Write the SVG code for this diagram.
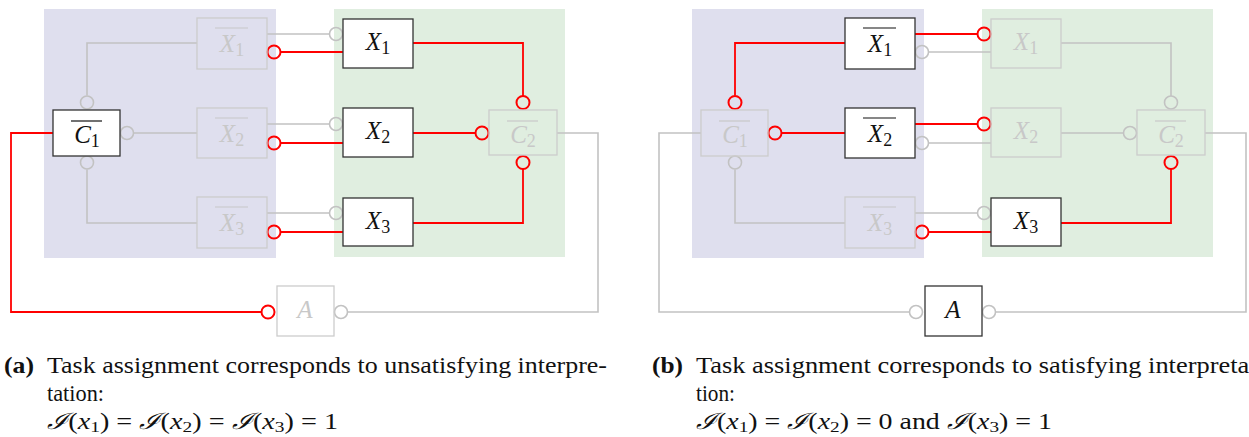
<svg xmlns="http://www.w3.org/2000/svg" width="1249" height="437" viewBox="0 0 1249 437">
<style>
.bgb{fill:#dfdfee}
.bgg{fill:#e0eee0}
.g{fill:none;stroke:#c2c2c2;stroke-width:1.6}
.r{fill:none;stroke:#ff0000;stroke-width:1.8}
.cg{fill:none;stroke:#c2c2c2;stroke-width:1.6}
.cr{fill:none;stroke:#ff0000;stroke-width:2}
.on rect{fill:#ffffff;stroke:#333333;stroke-width:1.3}
.off rect{fill:none;stroke:#cccccc;stroke-width:1.3}
.on text{fill:#111111}
.off text{fill:#c8c8c8}
.on line{stroke:#111111;stroke-width:1.2}
.off line{stroke:#c8c8c8;stroke-width:1.2}
.lbl{font-family:"Liberation Serif","DejaVu Serif",serif;font-size:25px;text-anchor:middle}
.it{font-style:italic}
.sub{font-size:18px;font-style:normal}
.cap{font-family:"Liberation Serif","DejaVu Serif",serif;font-size:22.5px;fill:#111111}
.capb{font-weight:bold}
.csub{font-size:15.5px}
</style>

<!-- ===================== Panel (a) ===================== -->
<g id="panel-a">
  <rect class="bgb" x="44" y="9" width="232" height="249"/>
  <rect class="bgg" x="334" y="9" width="231" height="248"/>
  <g id="a-connectors">
    <path class="g" d="M87,95.5 V43 H197"/>
    <circle class="cg" cx="87" cy="102.5" r="6.5"/>
    <path class="g" d="M133.5,133 H197"/>
    <circle class="cg" cx="127" cy="133" r="6.5"/>
    <path class="g" d="M87,169.5 V223 H197"/>
    <circle class="cg" cx="87" cy="162.5" r="6.5"/>
    <path class="g" d="M267,34 H329.5"/>
    <circle class="cg" cx="336" cy="34" r="6.5"/>
    <path class="g" d="M267,124 H329.5"/>
    <circle class="cg" cx="336" cy="124" r="6.5"/>
    <path class="g" d="M267,213 H329.5"/>
    <circle class="cg" cx="336" cy="213" r="6.5"/>
    <path class="g" d="M557,133 H598 V312 H347.5"/>
    <circle class="cg" cx="341" cy="312" r="6.5"/>
    <path class="r" d="M53,133 H11 V312 H261.5"/>
    <circle class="cr" cx="268" cy="312" r="6.5"/>
    <path class="r" d="M343,52 H280.5"/>
    <circle class="cr" cx="274" cy="52" r="6.5"/>
    <path class="r" d="M343,143 H280.5"/>
    <circle class="cr" cx="274" cy="143" r="6.5"/>
    <path class="r" d="M343,232 H280.5"/>
    <circle class="cr" cx="274" cy="232" r="6.5"/>
    <path class="r" d="M413,43 H523 V96"/>
    <circle class="cr" cx="523" cy="102.5" r="6.5"/>
    <path class="r" d="M413,133 H475.5"/>
    <circle class="cr" cx="482" cy="133" r="6.5"/>
    <path class="r" d="M413,223 H523 V169"/>
    <circle class="cr" cx="523" cy="162.5" r="6.5"/>
  </g>
  <g id="a-nX1" class="off">
    <rect x="197" y="18" width="70" height="51"/>
    <line x1="215" y1="28" x2="248" y2="28"/>
    <text class="lbl" x="232" y="52"><tspan class="it">X</tspan><tspan class="sub" dy="4">1</tspan></text>
  </g>
  <g id="a-nX2" class="off">
    <rect x="197" y="108" width="70" height="50"/>
    <line x1="215" y1="118" x2="248" y2="118"/>
    <text class="lbl" x="232" y="142"><tspan class="it">X</tspan><tspan class="sub" dy="4">2</tspan></text>
  </g>
  <g id="a-nX3" class="off">
    <rect x="197" y="197" width="70" height="51"/>
    <line x1="215" y1="207" x2="248" y2="207"/>
    <text class="lbl" x="232" y="231"><tspan class="it">X</tspan><tspan class="sub" dy="4">3</tspan></text>
  </g>
  <g id="a-X1" class="on">
    <rect x="343" y="19" width="70" height="49"/>
    <text class="lbl" x="378" y="50"><tspan class="it">X</tspan><tspan class="sub" dy="4">1</tspan></text>
  </g>
  <g id="a-X2" class="on">
    <rect x="343" y="108" width="70" height="49"/>
    <text class="lbl" x="378" y="139"><tspan class="it">X</tspan><tspan class="sub" dy="4">2</tspan></text>
  </g>
  <g id="a-X3" class="on">
    <rect x="343" y="198" width="70" height="48"/>
    <text class="lbl" x="378" y="229"><tspan class="it">X</tspan><tspan class="sub" dy="4">3</tspan></text>
  </g>
  <g id="a-nC1" class="on">
    <rect x="53" y="110" width="67" height="46"/>
    <line x1="71" y1="121" x2="102" y2="121"/>
    <text class="lbl" x="87" y="143"><tspan class="it">C</tspan><tspan class="sub" dy="4">1</tspan></text>
  </g>
  <g id="a-nC2" class="off">
    <rect x="489" y="110" width="68" height="45"/>
    <line x1="507" y1="121" x2="538" y2="121"/>
    <text class="lbl" x="523" y="143"><tspan class="it">C</tspan><tspan class="sub" dy="4">2</tspan></text>
  </g>
  <g id="a-A" class="off">
    <rect x="277" y="286" width="57" height="50"/>
    <text class="lbl" x="305" y="318"><tspan class="it">A</tspan></text>
  </g>
  <text class="cap capb" x="4" y="373" textLength="30" lengthAdjust="spacingAndGlyphs">(a)</text>
  <text class="cap" x="47" y="373" textLength="560" lengthAdjust="spacingAndGlyphs">Task assignment corresponds to unsatisfying interpre-</text>
  <text class="cap" x="47" y="401" textLength="57" lengthAdjust="spacingAndGlyphs">tation:</text>
  <text class="cap" x="47" y="429" textLength="291" lengthAdjust="spacingAndGlyphs"><tspan class="it">ℐ</tspan>(<tspan class="it">x</tspan><tspan class="csub" dy="3">1</tspan><tspan dy="-3">) = </tspan><tspan class="it">ℐ</tspan>(<tspan class="it">x</tspan><tspan class="csub" dy="3">2</tspan><tspan dy="-3">) = </tspan><tspan class="it">ℐ</tspan>(<tspan class="it">x</tspan><tspan class="csub" dy="3">3</tspan><tspan dy="-3">) = 1</tspan></text>
</g>

<!-- ===================== Panel (b) ===================== -->
<g id="panel-b" transform="translate(648,0)">
  <rect class="bgb" x="44" y="9" width="232" height="249"/>
  <rect class="bgg" x="334" y="9" width="231" height="248"/>
  <g id="b-connectors">
    <path class="r" d="M87,95.5 V43 H197"/>
    <circle class="cr" cx="87" cy="102.5" r="6.5"/>
    <path class="r" d="M133.5,133 H197"/>
    <circle class="cr" cx="127" cy="133" r="6.5"/>
    <path class="g" d="M87,169.5 V223 H197"/>
    <circle class="cg" cx="87" cy="162.5" r="6.5"/>
    <path class="r" d="M267,34 H329.5"/>
    <circle class="cr" cx="336" cy="34" r="6.5"/>
    <path class="r" d="M267,124 H329.5"/>
    <circle class="cr" cx="336" cy="124" r="6.5"/>
    <path class="g" d="M267,213 H329.5"/>
    <circle class="cg" cx="336" cy="213" r="6.5"/>
    <path class="g" d="M557,133 H598 V312 H347.5"/>
    <circle class="cg" cx="341" cy="312" r="6.5"/>
    <path class="g" d="M53,133 H11 V312 H261.5"/>
    <circle class="cg" cx="268" cy="312" r="6.5"/>
    <path class="g" d="M343,52 H280.5"/>
    <circle class="cg" cx="274" cy="52" r="6.5"/>
    <path class="g" d="M343,143 H280.5"/>
    <circle class="cg" cx="274" cy="143" r="6.5"/>
    <path class="r" d="M343,232 H280.5"/>
    <circle class="cr" cx="274" cy="232" r="6.5"/>
    <path class="g" d="M413,43 H523 V96"/>
    <circle class="cg" cx="523" cy="102.5" r="6.5"/>
    <path class="g" d="M413,133 H475.5"/>
    <circle class="cg" cx="482" cy="133" r="6.5"/>
    <path class="r" d="M413,223 H523 V169"/>
    <circle class="cr" cx="523" cy="162.5" r="6.5"/>
  </g>
  <g id="b-nX1" class="on">
    <rect x="197" y="18" width="70" height="51"/>
    <line x1="215" y1="28" x2="248" y2="28"/>
    <text class="lbl" x="232" y="52"><tspan class="it">X</tspan><tspan class="sub" dy="4">1</tspan></text>
  </g>
  <g id="b-nX2" class="on">
    <rect x="197" y="108" width="70" height="50"/>
    <line x1="215" y1="118" x2="248" y2="118"/>
    <text class="lbl" x="232" y="142"><tspan class="it">X</tspan><tspan class="sub" dy="4">2</tspan></text>
  </g>
  <g id="b-nX3" class="off">
    <rect x="197" y="197" width="70" height="51"/>
    <line x1="215" y1="207" x2="248" y2="207"/>
    <text class="lbl" x="232" y="231"><tspan class="it">X</tspan><tspan class="sub" dy="4">3</tspan></text>
  </g>
  <g id="b-X1" class="off">
    <rect x="343" y="19" width="70" height="49"/>
    <text class="lbl" x="378" y="50"><tspan class="it">X</tspan><tspan class="sub" dy="4">1</tspan></text>
  </g>
  <g id="b-X2" class="off">
    <rect x="343" y="108" width="70" height="49"/>
    <text class="lbl" x="378" y="139"><tspan class="it">X</tspan><tspan class="sub" dy="4">2</tspan></text>
  </g>
  <g id="b-X3" class="on">
    <rect x="343" y="198" width="70" height="48"/>
    <text class="lbl" x="378" y="229"><tspan class="it">X</tspan><tspan class="sub" dy="4">3</tspan></text>
  </g>
  <g id="b-nC1" class="off">
    <rect x="53" y="110" width="67" height="46"/>
    <line x1="71" y1="121" x2="102" y2="121"/>
    <text class="lbl" x="87" y="143"><tspan class="it">C</tspan><tspan class="sub" dy="4">1</tspan></text>
  </g>
  <g id="b-nC2" class="off">
    <rect x="489" y="110" width="68" height="45"/>
    <line x1="507" y1="121" x2="538" y2="121"/>
    <text class="lbl" x="523" y="143"><tspan class="it">C</tspan><tspan class="sub" dy="4">2</tspan></text>
  </g>
  <g id="b-A" class="on">
    <rect x="277" y="286" width="57" height="50"/>
    <text class="lbl" x="305" y="318"><tspan class="it">A</tspan></text>
  </g>
  <text class="cap capb" x="4" y="373" textLength="31" lengthAdjust="spacingAndGlyphs">(b)</text>
  <text class="cap" x="48" y="373" textLength="562" lengthAdjust="spacingAndGlyphs">Task assignment corresponds to satisfying interpreta-</text>
  <text class="cap" x="48" y="401" textLength="39" lengthAdjust="spacingAndGlyphs">tion:</text>
  <text class="cap" x="48" y="429" textLength="356" lengthAdjust="spacingAndGlyphs"><tspan class="it">ℐ</tspan>(<tspan class="it">x</tspan><tspan class="csub" dy="3">1</tspan><tspan dy="-3">) = </tspan><tspan class="it">ℐ</tspan>(<tspan class="it">x</tspan><tspan class="csub" dy="3">2</tspan><tspan dy="-3">) = 0 and </tspan><tspan class="it">ℐ</tspan>(<tspan class="it">x</tspan><tspan class="csub" dy="3">3</tspan><tspan dy="-3">) = 1</tspan></text>
</g>
</svg>
